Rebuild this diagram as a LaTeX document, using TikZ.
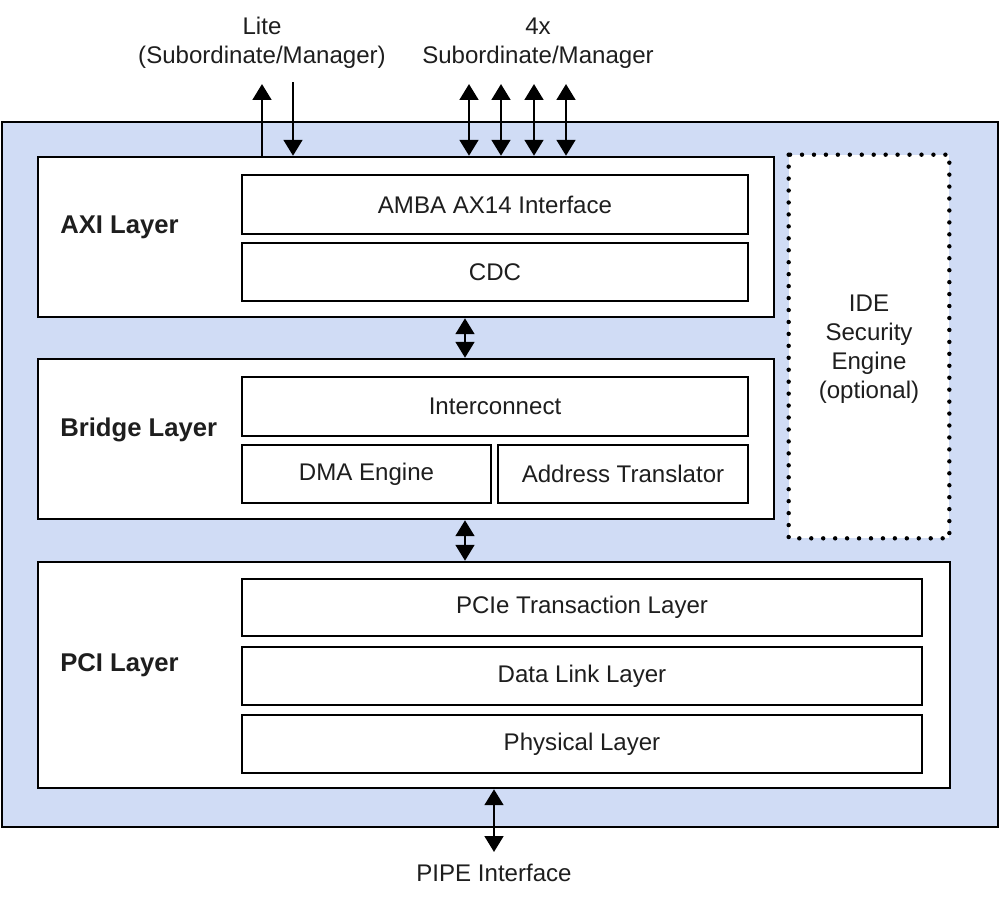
\documentclass[tikz,border=0pt]{standalone}
\usepackage{fontspec}
\setmainfont{Liberation Sans}
\usepackage{xcolor}
\usetikzlibrary{arrows.meta}

\definecolor{shellblue}{RGB}{208,220,245}
\definecolor{ink}{RGB}{30,30,30}

\tikzset{
  layerbox/.style={draw, line width=1.4pt, fill=white},
  subbox/.style={draw, line width=1.4pt, fill=white, text=ink, font=\fontsize{13.7}{16.5}\selectfont},
  layername/.style={anchor=west, inner sep=0pt, text=ink, font=\fontsize{14.6}{18}\selectfont\bfseries},
  toplabel/.style={align=center, text=ink, font=\fontsize{13.7}{16.5}\selectfont},
  arrow/.style={line width=1.6pt, -{Triangle[length=9pt,width=10.5pt]}},
  darrow/.style={line width=1.6pt, {Triangle[length=9pt,width=10.5pt]}-{Triangle[length=9pt,width=10.5pt]}}
}

\begin{document}
\begin{tikzpicture}[x=0.02cm, y=-0.02cm]
\useasboundingbox (0,0) rectangle (1000,900);

% outer block
\node[draw, line width=1.4pt, fill=shellblue, minimum width=19.92cm, minimum height=14.1cm] (core) at (500,474.5) {};

% AXI layer
\node[layerbox, minimum width=14.72cm, minimum height=3.2cm] (axi) at (406,237) {};
\node[layername] (axilabel) at (60,227) {AXI Layer};
\node[subbox, minimum width=10.12cm, minimum height=1.18cm] (amba) at (495,204.5) {AMBA AX14 Interface};
\node[subbox, minimum width=10.12cm, minimum height=1.16cm] (cdc) at (495,272) {CDC};

% Bridge layer
\node[layerbox, minimum width=14.72cm, minimum height=3.2cm] (bridge) at (406,439) {};
\node[layername] (bridgelabel) at (60,430) {Bridge Layer};
\node[subbox, minimum width=10.12cm, minimum height=1.18cm] (inter) at (495,406.5) {Interconnect};
\node[subbox, minimum width=4.98cm, minimum height=1.16cm] (dma) at (366.5,474) {DMA Engine};
\node[subbox, minimum width=5cm, minimum height=1.16cm] (xlat) at (623,474) {Address Translator};

% PCI layer
\node[layerbox, minimum width=18.24cm, minimum height=4.52cm] (pci) at (494,675) {};
\node[layername] (pcilabel) at (60,665) {PCI Layer};
\node[subbox, minimum width=13.6cm, minimum height=1.14cm] (tl) at (582,607.5) {PCIe Transaction Layer};
\node[subbox, minimum width=13.6cm, minimum height=1.16cm] (dll) at (582,676) {Data Link Layer};
\node[subbox, minimum width=13.6cm, minimum height=1.16cm] (phy) at (582,744) {Physical Layer};

% IDE engine
\node[fill=white, minimum width=3.2cm, minimum height=7.66cm] (ide) at (869,346.5) {};
\draw[line width=2.5pt, line cap=round, dash pattern=on 0pt off 6.8pt] (ide.north west) rectangle (ide.south east);
\node[toplabel] (idetext) at (869,349) {IDE\\Security\\Engine\\(optional)};

% external labels
\node[toplabel] (lite) at (262,43) {Lite\\(Subordinate/Manager)};
\node[toplabel] (quad) at (538,43) {4x\\Subordinate/Manager};
\node[toplabel] (pipe) at (494,873) {PIPE Interface};

% AXI ports
\coordinate (liteup) at (262,84);
\coordinate (litedn) at (293,82);
\draw[arrow] (liteup |- axi.north) -- (liteup);
\draw[arrow] (litedn) -- (litedn |- axi.north);
\foreach \x [count=\i] in {469,501,534,566} {
  \coordinate (port\i) at (\x,84);
  \draw[darrow] (port\i) -- (port\i |- axi.north);
}

% between layers
\coordinate (spine) at (465,0);
\draw[darrow] (spine |- axi.south) -- (spine |- bridge.north);
\draw[darrow] (spine |- bridge.south) -- (spine |- pci.north);
\coordinate (pipetop) at (494,852);
\draw[darrow] (pipetop |- pci.south) -- (pipetop);
\end{tikzpicture}
\end{document}
